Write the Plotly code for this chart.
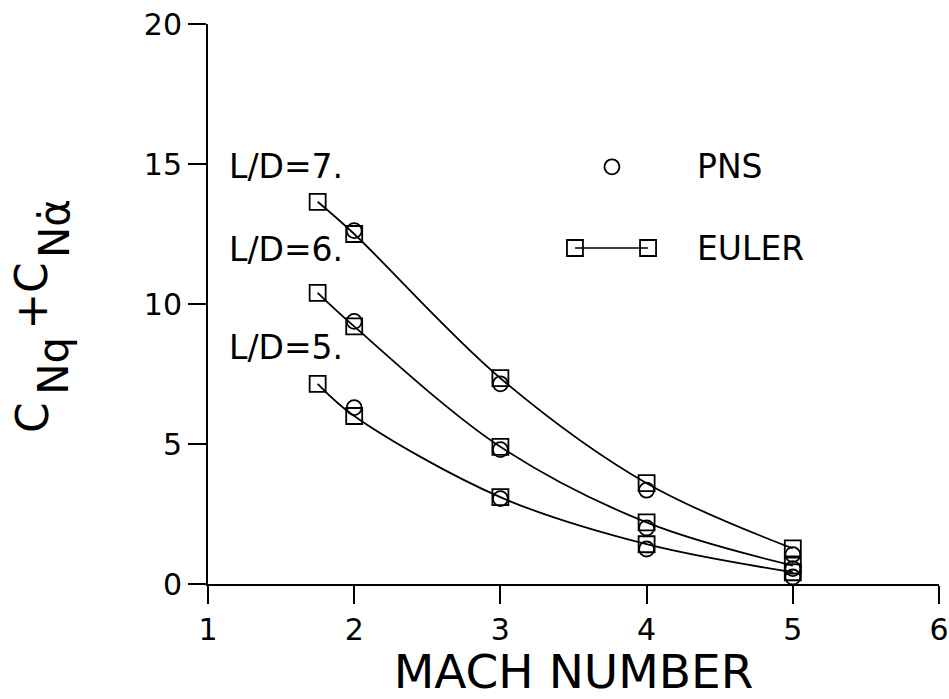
import plotly.graph_objects as go

# ---- data ----
mach_euler = [1.75, 2, 3, 4, 5]
mach_pns = [2, 3, 4, 5]

euler_ld7 = [13.65, 12.5, 7.35, 3.6, 1.27]
euler_ld6 = [10.4, 9.2, 4.9, 2.2, 0.66]
euler_ld5 = [7.15, 6.0, 3.1, 1.42, 0.42]

pns_ld7 = [12.62, 7.15, 3.35, 1.05]
pns_ld6 = [9.38, 4.8, 2.0, 0.55]
pns_ld5 = [6.3, 3.05, 1.25, 0.25]

ld_labels = ["L/D=7.", "L/D=6.", "L/D=5."]
x_ticks = [1, 2, 3, 4, 5, 6]
y_ticks = [0, 5, 10, 15, 20]

FONT = "DejaVu Sans, Liberation Sans, Arial, sans-serif"
BLACK = "#000000"

fig = go.Figure()

for ys in (euler_ld7, euler_ld6, euler_ld5):
    fig.add_trace(go.Scatter(
        x=mach_euler, y=ys, mode="lines+markers",
        line=dict(color=BLACK, width=1.8, shape="spline", smoothing=1.0),
        marker=dict(symbol="square-open", size=16, color=BLACK, line=dict(width=1.8)),
        showlegend=False, cliponaxis=False, hoverinfo="skip"))

for ys in (pns_ld7, pns_ld6, pns_ld5):
    fig.add_trace(go.Scatter(
        x=mach_pns, y=ys, mode="markers",
        marker=dict(symbol="circle-open", size=15, color=BLACK, line=dict(width=1.8)),
        showlegend=False, cliponaxis=False, hoverinfo="skip"))

# ---- in-plot key (drawn like the reference's key) ----
LEG_X_PNS = 3.763
LEG_X_EULER = [3.51, 4.01]
LEG_Y_PNS = 14.9
LEG_Y_EULER = 12.0
LEG_TEXT_X = 4.33

fig.add_trace(go.Scatter(
    x=[LEG_X_PNS], y=[LEG_Y_PNS], mode="markers",
    marker=dict(symbol="circle-open", size=15, color=BLACK, line=dict(width=1.8)),
    showlegend=False, cliponaxis=False, hoverinfo="skip"))
fig.add_trace(go.Scatter(
    x=LEG_X_EULER, y=[LEG_Y_EULER] * 2, mode="lines+markers",
    line=dict(color=BLACK, width=1.5),
    marker=dict(symbol="square-open", size=16, color=BLACK, line=dict(width=1.8)),
    showlegend=False, cliponaxis=False, hoverinfo="skip"))

annots = [
    dict(x=LEG_TEXT_X, y=LEG_Y_PNS, text="PNS"),
    dict(x=LEG_TEXT_X, y=LEG_Y_EULER, text="EULER"),
]
LD_X = 1.13
LD_Y = [14.9, 11.93, 8.46]
for lab, yy in zip(ld_labels, LD_Y):
    annots.append(dict(x=LD_X, y=yy, text=lab))

for a in annots:
    fig.add_annotation(x=a["x"], y=a["y"], text=a["text"], xref="x", yref="y",
                       xanchor="left", yanchor="middle", showarrow=False,
                       font=dict(family=FONT, size=33, color=BLACK))

# ---- y-axis title  C_Nq + C_Nα̇  (pieces so the subscripts sit like the reference) ----
title_parts = [
    ("C", -0.2408, 5.96, 44),
    ("Nq", -0.2107, 7.79, 42),
    ("+C", -0.2408, 10.29, 44),
    ("N\u03b1\u0307", -0.2107, 12.71, 42),
]
for txt, px, py, fs in title_parts:
    fig.add_annotation(x=px, y=py, xref="paper", yref="y", text=txt,
                       textangle=-90, showarrow=False,
                       xanchor="center", yanchor="middle",
                       font=dict(family=FONT, size=fs, color=BLACK))

axis_common = dict(
    showgrid=False, zeroline=False, showline=True, linecolor=BLACK, linewidth=2,
    ticks="outside", ticklen=18, tickwidth=2, tickcolor=BLACK,
    ticklabeloverflow="allow",
    tickfont=dict(family=FONT, size=30, color=BLACK))

fig.update_xaxes(range=[1, 6], tickvals=x_ticks, ticktext=[str(v) for v in x_ticks],
                 title=dict(text="MACH NUMBER", font=dict(family=FONT, size=47, color=BLACK),
                            standoff=16),
                 **axis_common)
fig.update_yaxes(range=[0, 20], tickvals=y_ticks, ticktext=[str(v) for v in y_ticks],
                 **axis_common)

fig.update_layout(
    width=949, height=699,
    margin=dict(l=208, r=10, t=24, b=115, autoexpand=False),
    paper_bgcolor="white", plot_bgcolor="white",
    showlegend=False,
    font=dict(family=FONT, color=BLACK),
)

fig.write_html(
    "out.html",
    config={"displayModeBar": False},
    post_script="document.body.style.margin='0';document.body.style.overflow='hidden';",
)
